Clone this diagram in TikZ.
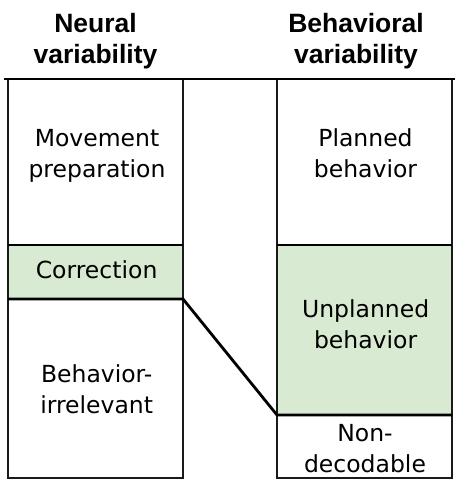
\documentclass[tikz,border=0pt]{standalone}
\usepackage{fontspec}
\setmainfont{DejaVu Sans}
\newfontfamily\headfont{Liberation Sans}
\definecolor{lightgreen}{HTML}{D9EAD3}
\definecolor{boxline}{HTML}{1A1A1A}
\begin{document}
\begin{tikzpicture}[x=1pt,y=-1pt,
  thinline/.style={draw=boxline,line width=1.1pt},
  thickline/.style={draw=black,line width=2.8pt},
  body/.style={font=\fontsize{23.5}{31}\selectfont,align=center,anchor=base,inner sep=0pt},
  head/.style={font=\headfont\bfseries\fontsize{26.5}{31}\selectfont,align=center,anchor=base,inner sep=0pt}]
\useasboundingbox (0,0) rectangle (459,483);
% fills
\fill[lightgreen] (8,245) rectangle (183,299);
\fill[lightgreen] (277,245) rectangle (452,415);
% boxes
\draw[thinline] (8,79) rectangle (183,478);
\draw[thinline] (277,79) rectangle (452,478);
% thick lines
\coordinate (topL) at (4,79);
\coordinate (topR) at (455,79);
\coordinate (midLa) at (8,245);
\coordinate (midLb) at (183,245);
\coordinate (midRa) at (277,245);
\coordinate (midRb) at (452,245);
\coordinate (corA) at (8,299);
\coordinate (corB) at (183,299);
\coordinate (unpA) at (277,415);
\coordinate (unpB) at (452,415);
\draw[thickline] (topL) -- (topR);
\draw[thickline] (midLa) -- (midLb);
\draw[thickline] (midRa) -- (midRb);
\draw[thickline] (corA) -- (corB) -- (unpA) -- (unpB);
% headers
\node[head] (hN) at (95.5,63) {Neural\\variability};
\node[head] (hB) at (356,63) {Behavioral\\variability};
% body
\node[body] (mov) at (97,177) {Movement\\preparation};
\node[body] (plan) at (365.5,177) {Planned\\behavior};
\node[body] (corr) at (96.6,278) {Correction};
\node[body] (unpl) at (365.6,348) {Unplanned\\behavior};
\node[body] (birr) at (96.7,413) {Behavior-\\irrelevant};
\node[body] (nond) at (365,472) {Non-\\decodable};
\end{tikzpicture}
\end{document}
